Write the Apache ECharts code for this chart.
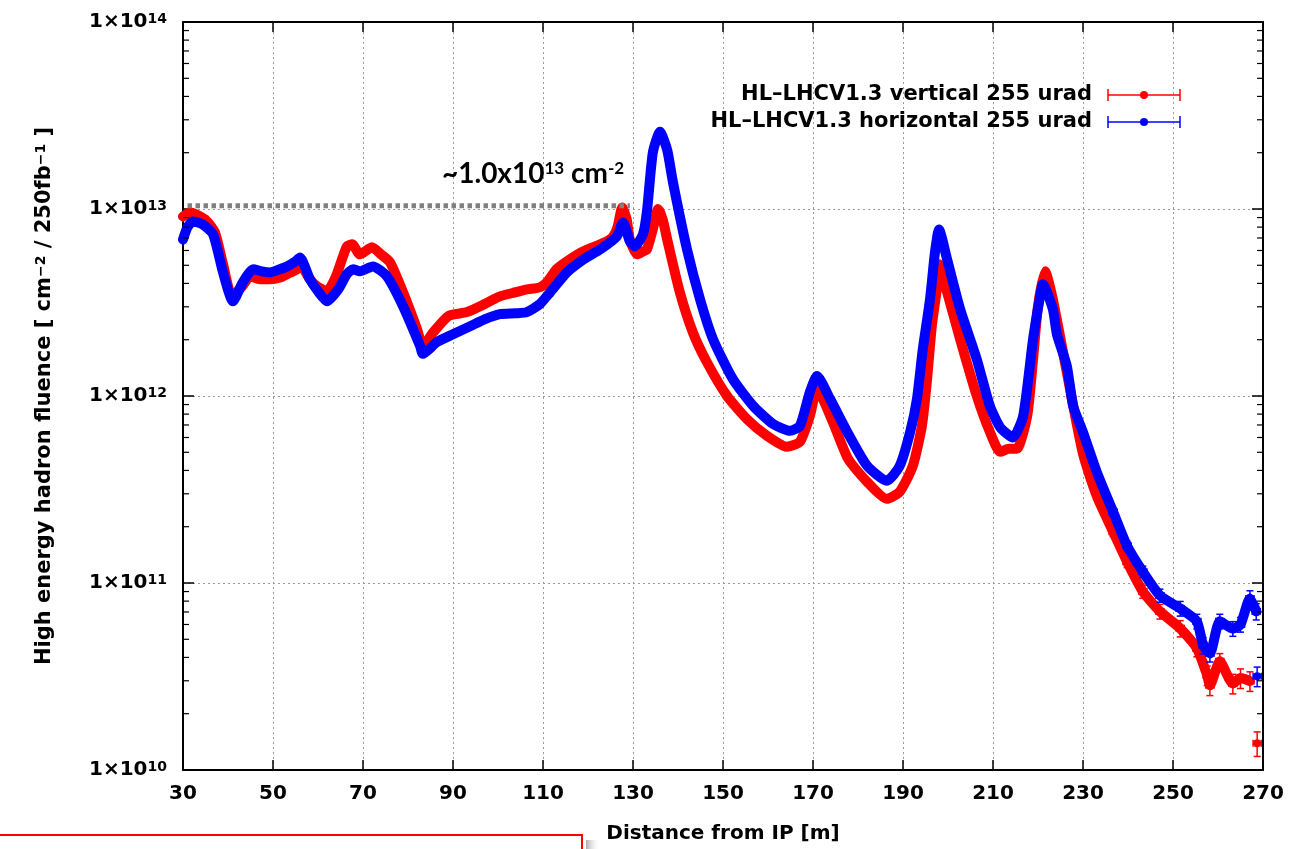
<!DOCTYPE html>
<html><head><meta charset="utf-8">
<script src="https://cdn.jsdelivr.net/npm/echarts@6/dist/echarts.min.js"></script>
<style>html,body{margin:0;padding:0;background:#fff;}#c{width:1304px;height:849px;}</style>
</head><body><div id="c"></div>
<script>
// ---------- data ----------
const seriesNames = ['HL\u2013LHCV1.3 vertical 255 urad', 'HL\u2013LHCV1.3 horizontal 255 urad'];

const redX = [30,31.6,34.9,37.1,38.9,40.9,43.3,44.9,47,49.3,51.6,53.1,55.3,56,58.2,59.8,62,64,66.4,67.6,69.3,72,74,76,78.9,82,83.3,85.6,89,93.1,97,100.4,104,106.4,109.3,110.9,113,115.3,118.9,122.7,124.2,125.6,126.6,127.6,128.6,129.3,130.9,132.2,133.1,134.4,135.6,136.6,137.6,140.4,143.3,146.4,150.9,155.3,159.8,164.2,167.1,169.3,170.9,174.4,177.8,182,186.4,189.3,192.2,194.2,195.3,196.4,197.6,198,199.8,202.7,206.4,209.3,211.6,213.5,215.3,217.6,218.9,220,221.6,223.3,226.4,230,233.1,236.7,239.8,243.3,247.1,251.6,255.3,257.6,258.2,260.4,263.3,265,267.1];
const redY = [9.12e12,9.58e12,8.79e12,7.50e12,5.06e12,3.41e12,3.9e12,4.37e12,4.21e12,4.21e12,4.3e12,4.48e12,4.76e12,5.06e12,4.21e12,3.86e12,3.63e12,4.37e12,6.31e12,6.47e12,5.72e12,6.24e12,5.72e12,5.19e12,3.59e12,2.28e12,1.85e12,2.19e12,2.68e12,2.81e12,3.10e12,3.41e12,3.59e12,3.72e12,3.81e12,4.06e12,4.76e12,5.25e12,5.93e12,6.47e12,6.71e12,7.13e12,8.07e12,1.02e13,8.79e12,6.87e12,5.72e12,5.93e12,6.08e12,7.78e12,1.0e13,8.79e12,6.87e12,3.59e12,2.19e12,1.52e12,1.0e12,7.54e11,6.12e11,5.35e11,5.69e11,7.82e11,1.09e12,7.26e11,4.61e11,3.48e11,2.82e11,3.08e11,4.24e11,6.92e11,1.19e12,2.36e12,3.86e12,5.06e12,3.59e12,2.01e12,1.0e12,6.43e11,5.03e11,5.22e11,5.22e11,7.82e11,1.57e12,3.02e12,4.64e12,3.29e12,1.34e12,4.9e11,2.9e11,1.88e11,1.30e11,9.01e10,7.05e10,5.72e10,4.48e10,3.21e10,2.84e10,3.81e10,2.9e10,3.1e10,2.99e10];
// relative error bars of the last red points (tail)
const redTailErr = [0.06,0.07,0.08,0.09,0.10,0.10,0.12,0.12,0.10,0.12,0.12,0.12];
const redLast = [268.7, 1.39e10, 0.15];

const blueX = [30,31,32.2,34.4,36.7,38.9,41.1,43.3,45.6,47.5,49.3,51.5,53.1,55,56,58.2,60,62,64.5,66.4,67.8,69.3,72.2,75.3,78.9,82.7,83.3,86.4,90,93.8,97,100.4,104,106.4,109.3,111.6,115.3,119,122.7,126.4,127.8,129.3,130.4,132.2,133.1,134.4,136,137.6,138.9,142,144.9,147.8,152.2,156.7,161.1,164.9,167.1,169.3,170.9,173.8,177.6,182,186.4,189.3,191.6,193.1,194.4,196,197.1,198,199.8,202.7,206.4,209.3,211.6,214.4,216.7,218.9,220.4,221.1,223.3,224.2,226.4,227.8,230,233.1,236.7,239.8,243.3,247.1,251.6,255.3,256.7,258.2,260.4,263.3,265,267.1,268.5];
const blueY = [6.87e12,8.0e12,8.58e12,8.26e12,7.31e12,4.58e12,3.21e12,4.06e12,4.76e12,4.64e12,4.58e12,4.76e12,4.93e12,5.25e12,5.51e12,4.21e12,3.63e12,3.21e12,3.72e12,4.48e12,4.76e12,4.64e12,4.93e12,4.37e12,3.02e12,1.85e12,1.68e12,1.94e12,2.14e12,2.36e12,2.57e12,2.74e12,2.77e12,2.81e12,3.10e12,3.59e12,4.58e12,5.38e12,6.08e12,7.13e12,8.48e12,6.71e12,6.31e12,7.31e12,9.7e12,2.0e13,2.59e13,2.07e13,1.38e13,6.08e12,3.29e12,2.01e12,1.23e12,8.85e11,7.09e11,6.51e11,6.92e11,1.05e12,1.28e12,9.64e11,6.43e11,4.24e11,3.52e11,4.24e11,6.43e11,9.64e11,1.78e12,3.29e12,5.86e12,7.78e12,5.38e12,2.91e12,1.57e12,8.85e11,6.8e11,6.0e11,7.82e11,2.01e12,3.35e12,3.96e12,2.91e12,2.14e12,1.45e12,8.85e11,6.4e11,3.9e11,2.40e11,1.58e11,1.15e11,8.58e10,7.31e10,6.24e10,4.64e10,4.2e10,6.24e10,5.7e10,6.0e10,8.26e10,7.05e10];
const blueTailErr = [0.05,0.06,0.07,0.08,0.09,0.09,0.10,0.10,0.09,0.09,0.09,0.10,0.10];
const blueLast = [268.7, 3.17e10, 0.12];

// reference level line
const guideX = [31, 129.3];
const guideLevel = 1.04e13;
const annotation = '~1.0x10';

// axis ticks
const xMin = 30, xMax = 270, xStep = 20;
const yMin = 1e10, yMax = 1e14;
const minorMult = [2,3,4,5,6,7,8,9];
const minorDecades = [1e10,1e11,1e12,1e13];

// ---------- build ----------
const F = "'DejaVu Sans', 'Liberation Sans', sans-serif";
const RED = '#ff0000', BLUE = '#0000ff';
const zip = (xs, ys) => xs.map((x, i) => [x, ys[i]]);
const tail = (xs, ys, errs) => {
  const n = errs.length, off = xs.length - n;
  return errs.map((e, i) => [xs[off + i], ys[off + i], e]);
};
const minorTicks = [];
minorDecades.forEach(d => minorMult.forEach(m => minorTicks.push([xMin, m * d])));

function errRender(color) {
  return function (params, api) {
    const x = api.value(0), y = api.value(1), e = api.value(2);
    const c = api.coord([x, y]);
    const lo = api.coord([x, y * (1 - e)]), hi = api.coord([x, y * (1 + e)]);
    const l = api.coord([x - 0.9, y]), r = api.coord([x + 0.9, y]);
    const st = {stroke: color, lineWidth: 1.5};
    const cap = 3.5;
    return {type: 'group', children: [
      {type: 'line', shape: {x1: c[0], y1: lo[1], x2: c[0], y2: hi[1]}, style: st},
      {type: 'line', shape: {x1: c[0] - cap, y1: lo[1], x2: c[0] + cap, y2: lo[1]}, style: st},
      {type: 'line', shape: {x1: c[0] - cap, y1: hi[1], x2: c[0] + cap, y2: hi[1]}, style: st},
      {type: 'line', shape: {x1: l[0], y1: c[1], x2: r[0], y2: c[1]}, style: st},
      {type: 'line', shape: {x1: l[0], y1: c[1] - cap, x2: l[0], y2: c[1] + cap}, style: st},
      {type: 'line', shape: {x1: r[0], y1: c[1] - cap, x2: r[0], y2: c[1] + cap}, style: st},
      {type: 'circle', shape: {cx: c[0], cy: c[1], r: 4}, style: {fill: color}}
    ]};
  };
}

function minorRender(params, api) {
  const v = api.value(1);
  const l = api.coord([xMin, v]), r = api.coord([xMax, v]);
  const st = {stroke: '#000', lineWidth: 1.2};
  return {type: 'group', children: [
    {type: 'line', shape: {x1: l[0], y1: l[1], x2: l[0] + 6, y2: l[1]}, style: st},
    {type: 'line', shape: {x1: r[0] - 6, y1: r[1], x2: r[0], y2: r[1]}, style: st}
  ]};
}

const yLabelRich = {
  m: {fontFamily: F, fontWeight: 'bold', fontSize: 20, color: '#000', lineHeight: 20, padding: [9, 0, 0, 0], verticalAlign: 'bottom'},
  s: {fontFamily: F, fontWeight: 'bold', fontSize: 14, color: '#000', lineHeight: 12, verticalAlign: 'top'}
};
const nameRich = {
  n: {fontFamily: F, fontWeight: 'bold', fontSize: 21, color: '#000', lineHeight: 21, padding: [8, 0, 0, 0], verticalAlign: 'bottom'},
  s: {fontFamily: F, fontWeight: 'bold', fontSize: 14, color: '#000', lineHeight: 12, verticalAlign: 'top'}
};

const chart = echarts.init(document.getElementById('c'), null, {renderer: 'canvas'});
const gridLine = {show: true, lineStyle: {color: '#9a9a9a', width: 1, type: [2, 3]}};
const frame = {show: true, lineStyle: {color: '#000', width: 2}};

chart.setOption({
  animation: false,
  backgroundColor: '#fff',
  grid: {left: 183, right: 41, top: 22, bottom: 77, containLabel: false},
  xAxis: [
    {type: 'value', min: xMin, max: xMax, interval: xStep, position: 'bottom',
     axisLine: frame, axisTick: {show: true, inside: true, length: 10, lineStyle: {color: '#000', width: 1.5}},
     axisLabel: {fontFamily: F, fontWeight: 'bold', fontSize: 20, color: '#000', margin: 14},
     splitLine: gridLine,
     name: 'Distance from IP [m]', nameLocation: 'middle', nameGap: 54,
     nameTextStyle: {fontFamily: F, fontWeight: 'bold', fontSize: 20, color: '#000'}},
    {type: 'value', min: xMin, max: xMax, interval: xStep, position: 'top',
     axisLine: frame, axisTick: {show: true, inside: true, length: 10, lineStyle: {color: '#000', width: 1.5}},
     axisLabel: {show: false}, splitLine: {show: false}}
  ],
  yAxis: [
    {type: 'log', logBase: 10, min: yMin, max: yMax, position: 'left',
     axisLine: frame, axisTick: {show: true, inside: true, length: 11, lineStyle: {color: '#000', width: 1.5}},
     axisLabel: {margin: 16, formatter: v => '{m|1\u00d710}{s|' + Math.round(Math.log10(v)) + '}', rich: yLabelRich},
     splitLine: gridLine,
     name: '{n|High energy hadron fluence [ cm}{s|\u22122}{n| / 250fb}{s|\u22121}{n| ]}',
     nameLocation: 'middle', nameRotate: 90, nameGap: 128,
     nameTextStyle: {rich: nameRich}},
    {type: 'log', logBase: 10, min: yMin, max: yMax, position: 'right',
     axisLine: frame, axisTick: {show: true, inside: true, length: 11, lineStyle: {color: '#000', width: 1.5}},
     axisLabel: {show: false}, splitLine: {show: false}}
  ],
  series: [
    {name: seriesNames[0], type: 'line', data: zip(redX, redY), showSymbol: false, symbol: 'none', smooth: 0.2,
     lineStyle: {color: RED, width: 10, join: 'round', cap: 'round'}, z: 3},
    {name: seriesNames[0] + ' err', type: 'custom', renderItem: errRender(RED),
     data: tail(redX, redY, redTailErr).concat([redLast]), z: 3, clip: false},
    {name: seriesNames[1], type: 'line', data: zip(blueX, blueY), showSymbol: false, symbol: 'none', smooth: 0.2,
     lineStyle: {color: BLUE, width: 10, join: 'round', cap: 'round'}, z: 4},
    {name: seriesNames[1] + ' err', type: 'custom', renderItem: errRender(BLUE),
     data: tail(blueX, blueY, blueTailErr).concat([blueLast]), z: 4, clip: false},
    {name: 'level', type: 'line', data: guideX.map(x => [x, guideLevel]), symbol: 'none',
     lineStyle: {color: '#808080', width: 5, type: [4.5, 3.5]}, z: 5},
    {name: 'minor ticks', type: 'custom', renderItem: minorRender, data: minorTicks, z: 6, clip: false, silent: true}
  ],
  graphic: [
    // legend
    {type: 'text', z: 10, style: {x: 1092, y: 95, text: seriesNames[0], align: 'right', verticalAlign: 'middle',
      fontFamily: F, fontWeight: 'bold', fontSize: 21, fill: '#000'}},
    {type: 'text', z: 10, style: {x: 1092, y: 122, text: seriesNames[1], align: 'right', verticalAlign: 'middle',
      fontFamily: F, fontWeight: 'bold', fontSize: 21, fill: '#000'}},
    {type: 'line', z: 10, shape: {x1: 1108, y1: 95, x2: 1180, y2: 95}, style: {stroke: RED, lineWidth: 1.5}},
    {type: 'line', z: 10, shape: {x1: 1108, y1: 89, x2: 1108, y2: 101}, style: {stroke: RED, lineWidth: 1.5}},
    {type: 'line', z: 10, shape: {x1: 1180, y1: 89, x2: 1180, y2: 101}, style: {stroke: RED, lineWidth: 1.5}},
    {type: 'circle', z: 10, shape: {cx: 1144, cy: 95, r: 4}, style: {fill: RED}},
    {type: 'line', z: 10, shape: {x1: 1108, y1: 122, x2: 1180, y2: 122}, style: {stroke: BLUE, lineWidth: 1.5}},
    {type: 'line', z: 10, shape: {x1: 1108, y1: 116, x2: 1108, y2: 128}, style: {stroke: BLUE, lineWidth: 1.5}},
    {type: 'line', z: 10, shape: {x1: 1180, y1: 116, x2: 1180, y2: 128}, style: {stroke: BLUE, lineWidth: 1.5}},
    {type: 'circle', z: 10, shape: {cx: 1144, cy: 122, r: 4}, style: {fill: BLUE}},
    // annotation
    {type: 'text', z: 10, style: {x: 442, y: 160, verticalAlign: 'top',
      text: '{a|' + annotation + '}{b|13}{a| cm}{b|-2}',
      rich: {
        a: {fontFamily: 'Lato, "Open Sans", sans-serif', fontWeight: 'bold', fontSize: 28, lineHeight: 28, padding: [8, 0, 0, 0], verticalAlign: 'bottom', color: '#000'},
        b: {fontFamily: 'Lato, "Open Sans", sans-serif', fontWeight: 'bold', fontSize: 17, lineHeight: 15, verticalAlign: 'top', color: '#000'}
      }}},
    // red frame at the bottom-left and its shadow
    {type: 'rect', z: 10, shape: {x: 586, y: 840, width: 14, height: 20},
     style: {fill: new echarts.graphic.LinearGradient(0, 0, 1, 0, [{offset: 0, color: 'rgba(120,120,120,0.6)'}, {offset: 1, color: 'rgba(255,255,255,0)'}])}},
    {type: 'rect', z: 11, shape: {x: -3, y: 835, width: 585, height: 40}, style: {fill: 'none', stroke: RED, lineWidth: 2}}
  ]
});
</script>
</body></html>
